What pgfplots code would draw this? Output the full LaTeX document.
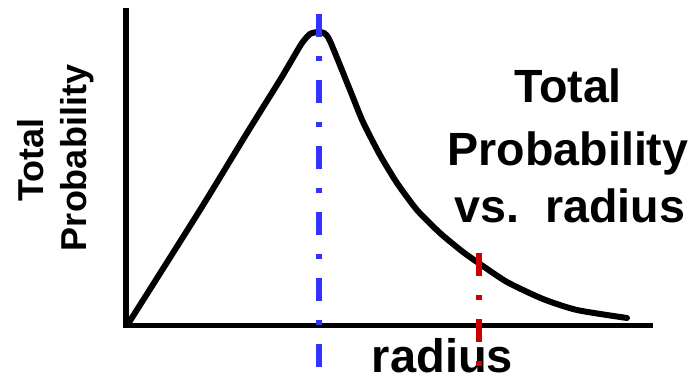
\documentclass[border=0pt]{standalone}
\usepackage{pgfplots}
\pgfplotsset{compat=1.18}
\usepackage{fontspec}
\setmainfont{Liberation Sans}
\definecolor{myblue}{HTML}{3333FF}
\definecolor{myred}{HTML}{CC0000}
\begin{document}
\begin{tikzpicture}
\begin{axis}[
  scale only axis, width=349pt, height=190pt,
  xmin=0, xmax=698, ymin=0, ymax=380, y dir=reverse,
  hide axis, clip=false,
]
\path (axis cs:0,0) rectangle (axis cs:698,380);
% axes
\addplot[black, line width=3pt, line cap=butt] coordinates {(126,8) (126,328)};
\addplot[black, line width=2.6pt, line cap=butt] coordinates {(123,325.5) (653,325.5)};
% curve
\addplot[black, line width=3pt, line cap=round, line join=round, smooth, tension=0.4] coordinates {
(128,324) (200,210) (247,133) (280,80) (293,58) (302,43) (310,34) (318,32) (324,33) (330,41)
(350,90) (363,122) (380,155) (397,183) (417,210) (440,233) (463,252) (480,264) (507,282) (543,299) (577,310) (627,318)};
% texts
\node[font=\bfseries\fontsize{18}{22}\selectfont, rotate=90, anchor=base] at (axis cs:43,160) {Total};
\node[font=\bfseries\fontsize{18}{22}\selectfont, rotate=90, anchor=base] at (axis cs:86,158) {Probability};
\node[font=\bfseries\fontsize{23.3}{28}\selectfont, anchor=base] at (axis cs:568,103) {Total};
\node[font=\bfseries\fontsize{23.3}{28}\selectfont, anchor=base] at (axis cs:568,165) {Probability};
\node[font=\bfseries\fontsize{23.3}{28}\selectfont, anchor=base] at (axis cs:570,222) {vs.~~radius};
\node[font=\bfseries\fontsize{23.5}{28}\selectfont, anchor=base] at (axis cs:442.5,372) {radius};
% marker lines
\addplot[myblue, line width=3pt, line cap=butt, dash pattern=on 11.5pt off 9.5pt on 2.5pt off 9.5pt] coordinates {(319,14) (319,368)};
\addplot[myred, line width=3pt, line cap=butt, dash pattern=on 11.5pt off 9.5pt on 2.5pt off 9.5pt] coordinates {(479,253) (479,367)};
\end{axis}
\end{tikzpicture}
\end{document}
